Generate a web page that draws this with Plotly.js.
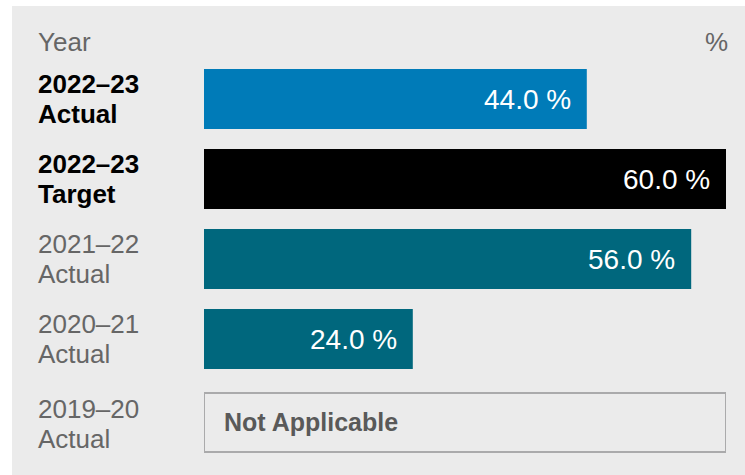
<!DOCTYPE html>
<html>
<head>
<meta charset="utf-8">
<script src="https://cdn.plot.ly/plotly-3.0.1.min.js"></script>
<style>
  html, body { margin: 0; padding: 0; background: #ffffff; width: 745px; height: 475px; overflow: hidden; }
  #chart { position: absolute; left: 12px; top: 6px; width: 733px; height: 469px; }
</style>
</head>
<body>
<div id="chart"></div>
<script>
// ---- data ----
const years = ["2022–23", "2022–23", "2021–22", "2020–21", "2019–20"];
const kinds = ["Actual", "Target", "Actual", "Actual", "Actual"];
const values = [44.0, 60.0, 56.0, 24.0, null];
const axisMax = 60;
const naText = "Not Applicable";

// ---- style ----
const barColors = ["#007bb8", "#000000", "#00677d", "#00677d", "rgba(0,0,0,0)"];
const labelBold = [true, true, false, false, false];
const FONT = "Liberation Sans, Arial, Helvetica, sans-serif";
const GRAY = "#666666";
const lastRowShift = -5;
const LABEL_X = -168 / 522;

const cats = years.map((y, i) => i);  // row index categories

const bars = {
  type: "bar",
  orientation: "h",
  y: cats.filter((c, i) => values[i] !== null),
  x: values.filter(v => v !== null),
  width: 0.75,
  marker: { color: barColors.filter((c, i) => values[i] !== null) },
  hoverinfo: "skip"
};

const naIdx = values.map((v, i) => v === null ? i : -1).filter(i => i >= 0);
const naBox = {
  type: "bar",
  orientation: "h",
  y: naIdx,
  x: naIdx.map(() => axisMax),
  width: 0.7375,
  offset: -0.325,
  marker: { color: "rgba(0,0,0,0)", line: { color: "#aaaaab", width: 2 } },
  hoverinfo: "skip"
};

const annotations = [];
// headers
annotations.push({ xref: "paper", yref: "paper", x: LABEL_X, y: 1, yshift: 17,
  xanchor: "left", yanchor: "middle", showarrow: false, text: "Year",
  font: { family: FONT, size: 26, color: GRAY } });
annotations.push({ xref: "paper", yref: "paper", x: 1, y: 1, yshift: 17, xshift: 4,
  xanchor: "right", yanchor: "middle", showarrow: false, text: "%",
  font: { family: FONT, size: 26, color: GRAY } });

years.forEach((yr, i) => {
  const shift = values[i] === null ? lastRowShift : 0;
  const col = labelBold[i] ? "#000000" : GRAY;
  const wrap = t => labelBold[i] ? "<b>" + t + "</b>" : t;
  annotations.push({ xref: "paper", yref: "y", x: LABEL_X, y: cats[i], yshift: 15 + shift,
    xanchor: "left", yanchor: "middle", showarrow: false, text: wrap(yr),
    font: { family: FONT, size: 26, color: col } });
  annotations.push({ xref: "paper", yref: "y", x: LABEL_X, y: cats[i], yshift: -15 + shift,
    xanchor: "left", yanchor: "middle", showarrow: false, text: wrap(kinds[i]),
    font: { family: FONT, size: 26, color: col } });
  if (values[i] !== null) {
    annotations.push({ xref: "x", yref: "y", x: values[i], y: cats[i], xshift: -14,
      xanchor: "right", yanchor: "middle", showarrow: false,
      text: values[i].toFixed(1) + " %",
      font: { family: FONT, size: 28, color: "#ffffff" } });
  } else {
    annotations.push({ xref: "x", yref: "y", x: 0, y: cats[i], xshift: 18, yshift: -3,
      xanchor: "left", yanchor: "middle", showarrow: false, text: "<b>" + naText + "</b>",
      font: { family: FONT, size: 25, color: "#595959" } });
  }
});

const layout = {
  width: 733, height: 469,
  paper_bgcolor: "#ebebeb",
  plot_bgcolor: "rgba(0,0,0,0)",
  margin: { l: 192, r: 19, t: 53, b: 16, pad: 0 },
  showlegend: false,
  barmode: "overlay",
  xaxis: { range: [0, axisMax], visible: false, fixedrange: true },
  yaxis: { type: "linear", range: [4.5, -0.5], visible: false, fixedrange: true },
  annotations: annotations
};

Plotly.newPlot("chart", [bars, naBox], layout, { staticPlot: true, displayModeBar: false });
</script>
</body>
</html>
